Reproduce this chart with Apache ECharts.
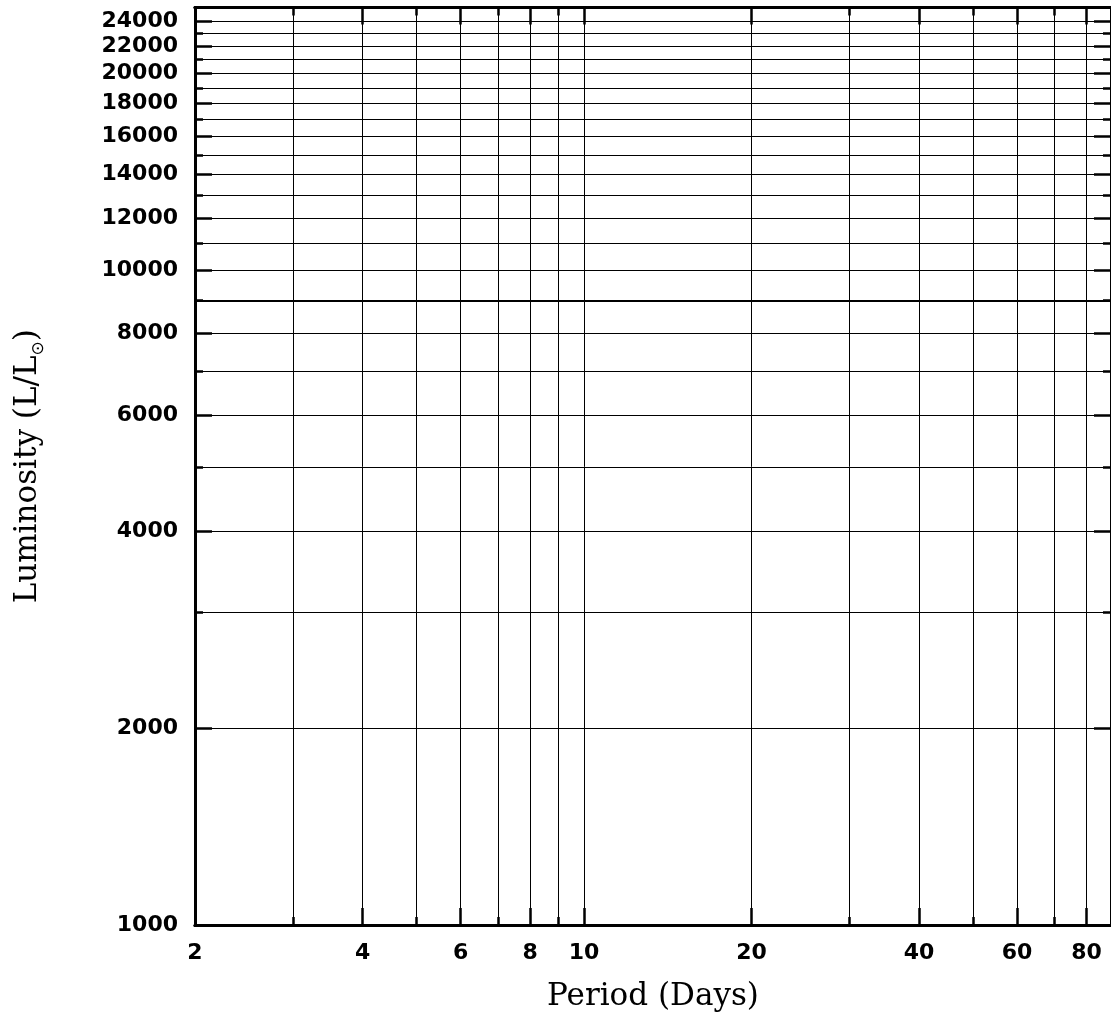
<!DOCTYPE html>
<html><head><meta charset="utf-8">
<script src="https://cdn.jsdelivr.net/npm/echarts@6/dist/echarts.min.js"></script>
<style>html,body{margin:0;padding:0;background:#fff}#c{width:1111px;height:1023px}</style>
</head><body><div id="c"></div>
<script>
const xRange = [2, 88.5];
const yRange = [1000, 25200];
const xMajorTicks = [2, 4, 6, 8, 10, 20, 40, 60, 80];
const xAllTicks = [2, 3, 4, 5, 6, 7, 8, 9, 10, 20, 30, 40, 50, 60, 70, 80];
const yMajorTicks = [1000, 2000, 4000, 6000, 8000, 10000, 12000, 14000, 16000, 18000, 20000, 22000, 24000];
const yAllTicks = [1000, 2000, 3000, 4000, 5000, 6000, 7000, 8000, 9000, 10000, 11000, 12000, 13000,
  14000, 15000, 16000, 17000, 18000, 19000, 20000, 21000, 22000, 23000, 24000];
const yHeavyLines = [9000];
const xTitle = 'Period (Days)';
const yTitleMain = 'Luminosity (L/L';
const yTitleSub = '\u2299';

const labelFont = {fontFamily: 'DejaVu Sans', fontWeight: 'bold', fontSize: 22, color: '#000'};
const titleFont = 'DejaVu Serif';

function mkAxis(range, position, ticks, len, opts) {
  const a = {
    type: 'log', logBase: 10, min: range[0], max: range[1], position: position,
    axisLine: {show: true, lineStyle: {color: '#000', width: 3}},
    axisTick: {show: true, inside: true, length: len, customValues: ticks, lineStyle: {color: '#000', width: 2.5}},
    axisLabel: {show: false},
    splitLine: {show: false},
    minorTick: {show: false}, minorSplitLine: {show: false}
  };
  return Object.assign(a, opts || {});
}

const xAxes = [
  mkAxis(xRange, 'bottom', xAllTicks, 8, {
    splitLine: {show: true, lineStyle: {color: '#000', width: 1}}
  }),
  mkAxis(xRange, 'bottom', xMajorTicks, 17, {
    axisLabel: Object.assign({show: true, customValues: xMajorTicks, margin: 17, interval: 0, hideOverlap: false,
      formatter: v => String(Math.round(v))}, labelFont),
    name: xTitle, nameLocation: 'middle', nameGap: 56,
    nameTextStyle: {fontFamily: titleFont, fontSize: 31, color: '#000'}
  }),
  mkAxis(xRange, 'top', xAllTicks, 8),
  mkAxis(xRange, 'top', xMajorTicks, 17)
];
const yAxes = [
  mkAxis(yRange, 'left', yAllTicks, 8, {
    splitLine: {show: true, lineStyle: {color: '#000', width: 1}}
  }),
  mkAxis(yRange, 'left', yMajorTicks, 17, {
    axisLabel: Object.assign({show: true, customValues: yMajorTicks, margin: 17, interval: 0, hideOverlap: false,
      formatter: v => String(Math.round(v))}, labelFont),
    name: '{m|' + yTitleMain + '}{s|' + yTitleSub + '}{m|)}', nameLocation: 'middle', nameGap: 148, nameRotate: 90,
    nameTextStyle: {fontFamily: titleFont, fontSize: 31, color: '#000',
      rich: {
        m: {fontFamily: titleFont, fontSize: 31, color: '#000', lineHeight: 38, verticalAlign: 'middle'},
        s: {fontFamily: 'DejaVu Sans', fontSize: 17, color: '#000', lineHeight: 38, verticalAlign: 'bottom'}
      }}
  }),
  mkAxis(yRange, 'right', yAllTicks, 8),
  mkAxis(yRange, 'right', yMajorTicks, 17)
];

const chart = echarts.init(document.getElementById('c'), null, {renderer: 'canvas'});
chart.setOption({
  animation: false,
  backgroundColor: '#fff',
  grid: {left: 195, right: -1, top: 7.5, bottom: 98, containLabel: false},
  xAxis: xAxes,
  yAxis: yAxes,
  series: [
    {type: 'scatter', xAxisIndex: 0, yAxisIndex: 0, data: [],
      markLine: {silent: true, symbol: 'none', label: {show: false},
        lineStyle: {color: '#000', width: 2, type: 'solid'},
        data: yHeavyLines.map(v => ({yAxis: v}))}},
    {type: 'scatter', xAxisIndex: 1, yAxisIndex: 1, data: []},
    {type: 'scatter', xAxisIndex: 2, yAxisIndex: 2, data: []},
    {type: 'scatter', xAxisIndex: 3, yAxisIndex: 3, data: []}
  ]
});
</script></body></html>
